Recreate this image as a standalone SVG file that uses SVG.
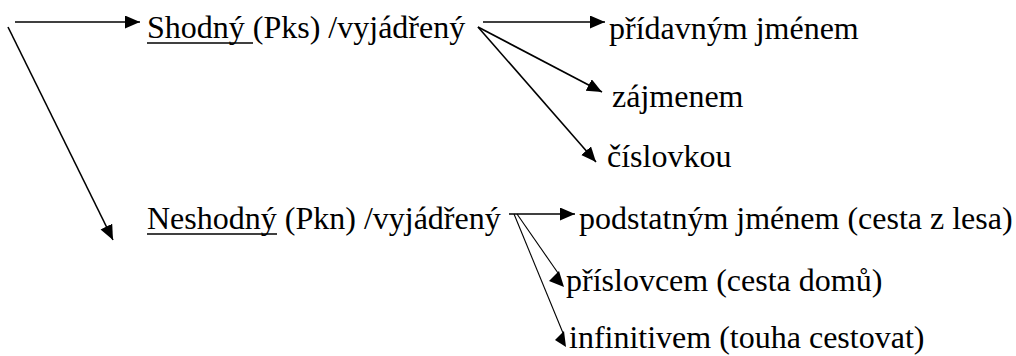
<svg xmlns="http://www.w3.org/2000/svg" width="1016" height="356" viewBox="0 0 1016 356">
<defs>
<marker id="ah" markerUnits="userSpaceOnUse" markerWidth="16" markerHeight="14" refX="15" refY="6.5" orient="auto">
<path d="M0,0 L15,6.5 L0,13 z" fill="#000"/>
</marker>
</defs>
<rect width="1016" height="356" fill="#fff"/>
<g id="connectors" stroke="#000" fill="none">
<g stroke-width="1.6">
<line x1="15" y1="22" x2="140" y2="22" marker-end="url(#ah)"/>
<line x1="8" y1="27" x2="113" y2="240" marker-end="url(#ah)"/>
<line x1="483" y1="22" x2="605" y2="22" marker-end="url(#ah)"/>
<line x1="478" y1="27" x2="602" y2="92" marker-end="url(#ah)"/>
<line x1="478" y1="27" x2="596" y2="162" marker-end="url(#ah)"/>
<line x1="509" y1="214" x2="575" y2="214" marker-end="url(#ah)"/>
</g>
<g stroke-width="1.1">
<line x1="517" y1="214" x2="558" y2="273"/>
<line x1="514" y1="214" x2="563" y2="333"/>
</g>
<g fill="#000" stroke="none">
<polygon points="549,281 559,271 564,287"/>
<polygon points="555,340 564,331 566,347"/>
</g>
</g>
<g font-family="Liberation Serif" font-size="32" fill="#000">
<g id="shodny"><text x="147" y="38">Shodný (Pks) /vyjádřený</text><line x1="147" y1="43" x2="253" y2="43" stroke="#000" stroke-width="1.6"/></g>
<g id="pridavnym"><text x="609" y="39">přídavným jménem</text></g>
<g id="zajmenem"><text x="612" y="107">zájmenem</text></g>
<g id="cislovkou"><text x="607" y="167">číslovkou</text></g>
<g id="neshodny"><text x="147" y="229">Neshodný (Pkn) /vyjádřený</text><line x1="147" y1="234" x2="277" y2="234" stroke="#000" stroke-width="1.6"/></g>
<g id="podstatnym"><text x="579" y="229">podstatným jménem (cesta z lesa)</text></g>
<g id="prislovcem"><text x="566" y="291">příslovcem (cesta domů)</text></g>
<g id="infinitivem"><text x="569" y="348">infinitivem (touha cestovat)</text></g>
</g>
</svg>
